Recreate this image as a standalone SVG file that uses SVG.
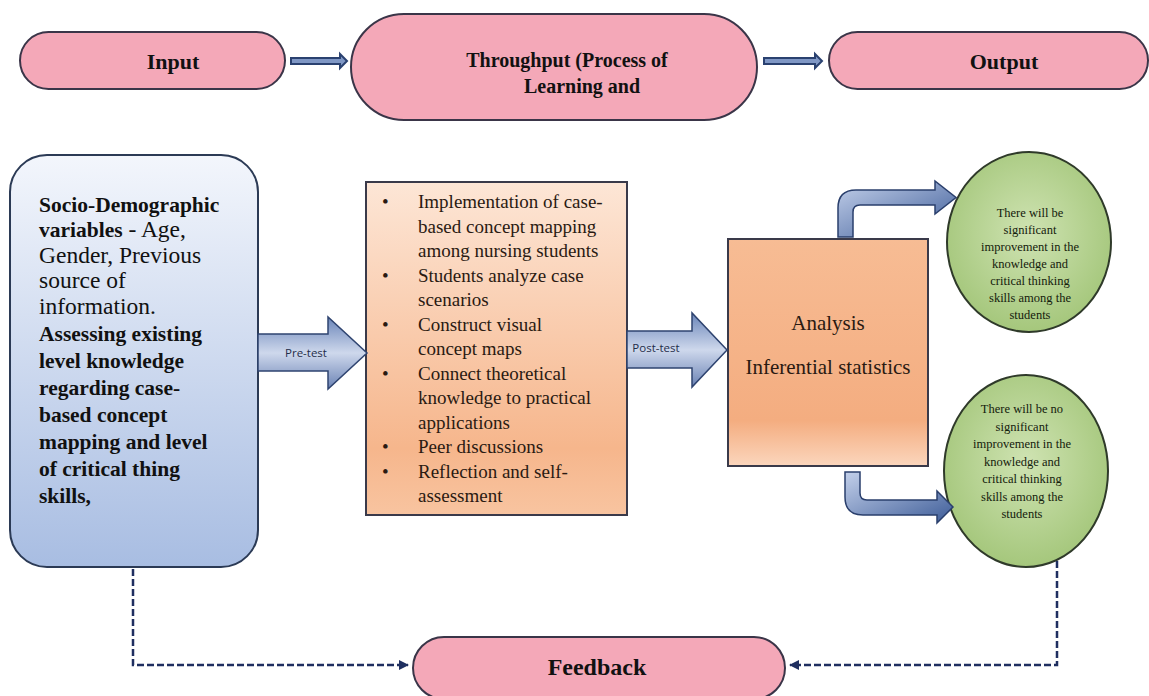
<svg xmlns="http://www.w3.org/2000/svg" width="1149" height="696" viewBox="0 0 1149 696">
<style>
.pill{fill:#f4a8b8;stroke:#3a3548;stroke-width:2}
.ptxt{font-family:"Liberation Serif",serif;font-weight:bold;font-size:22px;fill:#111;text-anchor:middle}
.ltxt{font-family:"Liberation Serif",serif;fill:#111}
.b{font-weight:bold;font-size:21.5px}
.n{font-size:23.5px}
.mtxt{font-family:"Liberation Serif",serif;font-size:19px;fill:#2a1a12}
.ctxt{font-family:"Liberation Serif",serif;font-size:12.5px;fill:#14200c;text-anchor:middle}
.atxt{font-family:"Liberation Serif",serif;font-size:21px;fill:#2a1a12;text-anchor:middle}
.lbl{font-family:"Open Sans","Liberation Sans",sans-serif;font-size:11.5px;fill:#1f2d4a;text-anchor:middle}
.thin{fill:#7f97c5;stroke:#2a4170;stroke-width:2}
.blk{fill:url(#gBlk);stroke:#2f4470;stroke-width:1.5}
.bent{fill:url(#gBent);stroke:#2a3f6c;stroke-width:1.5}
.dash{fill:none;stroke:#1f2f60;stroke-width:2.5;stroke-dasharray:7 3}
.circ{fill:url(#gGreen);stroke:#2f3a2a;stroke-width:2}
</style>
<defs>
<linearGradient id="gBlue" x1="0" y1="0" x2="0" y2="1">
<stop offset="0" stop-color="#f3f6fc"/><stop offset="1" stop-color="#a8bde2"/>
</linearGradient>
<linearGradient id="gPeach" x1="0" y1="0" x2="0" y2="1">
<stop offset="0" stop-color="#fde6d6"/><stop offset="0.8" stop-color="#f6b68c"/><stop offset="1" stop-color="#f8c4a0"/>
</linearGradient>
<linearGradient id="gOrange" x1="0" y1="0" x2="0" y2="1">
<stop offset="0" stop-color="#f7bc94"/><stop offset="0.8" stop-color="#f4ad80"/><stop offset="1" stop-color="#fbd6bd"/>
</linearGradient>
<linearGradient id="gBlk" x1="0" y1="0" x2="0" y2="1">
<stop offset="0" stop-color="#6a85b9"/><stop offset="0.5" stop-color="#ced8ec"/><stop offset="1" stop-color="#6a82b4"/>
</linearGradient>
<linearGradient id="gBent" x1="0" y1="0" x2="1" y2="1">
<stop offset="0" stop-color="#c3d0ea"/><stop offset="1" stop-color="#3d5c98"/>
</linearGradient>
<radialGradient id="gGreen" cx="0.5" cy="0.45" r="0.55">
<stop offset="0" stop-color="#cfe3b2"/><stop offset="1" stop-color="#a5c77c"/>
</radialGradient>
<marker id="mDash" viewBox="0 0 10 10" refX="9" refY="5" markerWidth="4" markerHeight="4" orient="auto-start-reverse">
<path d="M0,0 L10,5 L0,10 z" fill="#1f2f60"/>
</marker>
</defs>

<g id="input">
<rect class="pill" x="20" y="32" width="265" height="57" rx="28.5"/>
<text class="ptxt" x="173" y="69">Input</text>
</g>
<g id="throughput">
<rect class="pill" x="351" y="14" width="406" height="106" rx="53"/>
<text class="ptxt" x="567" y="67" style="font-size:20px">Throughput (Process of</text>
<text class="ptxt" x="582" y="93" style="font-size:20px">Learning and</text>
</g>
<g id="output">
<rect class="pill" x="829" y="32" width="319" height="57" rx="28.5"/>
<text class="ptxt" x="1004" y="69">Output</text>
</g>

<g id="sociodemographic">
<rect x="10" y="155" width="248" height="412" rx="37" fill="url(#gBlue)" stroke="#2b3a55" stroke-width="2"/>
<text class="ltxt" x="39" y="212"><tspan class="b">Socio-Demographic</tspan></text>
<text class="ltxt" x="39" y="237"><tspan class="b">variables</tspan><tspan class="n"> - Age,</tspan></text>
<text class="ltxt n" x="39" y="263">Gender, Previous</text>
<text class="ltxt n" x="39" y="288">source of</text>
<text class="ltxt n" x="39" y="314">information.</text>
<text class="ltxt b" x="39" y="341">Assessing existing</text>
<text class="ltxt b" x="39" y="368">level knowledge</text>
<text class="ltxt b" x="39" y="395">regarding case-</text>
<text class="ltxt b" x="39" y="422">based concept</text>
<text class="ltxt b" x="39" y="449">mapping and level</text>
<text class="ltxt b" x="39" y="476">of critical thing</text>
<text class="ltxt b" x="39" y="503">skills,</text>
</g>

<g id="intervention">
<rect x="366" y="182" width="261" height="333" fill="url(#gPeach)" stroke="#3a3a4a" stroke-width="2"/>
<g class="mtxt">
<text x="382" y="208">•</text><text x="418" y="208">Implementation of case-</text>
<text x="418" y="232.5">based concept mapping</text>
<text x="418" y="257">among nursing students</text>
<text x="382" y="281.5">•</text><text x="418" y="281.5">Students analyze case</text>
<text x="418" y="306">scenarios</text>
<text x="382" y="330.5">•</text><text x="418" y="330.5">Construct visual</text>
<text x="418" y="355">concept maps</text>
<text x="382" y="379.5">•</text><text x="418" y="379.5">Connect theoretical</text>
<text x="418" y="404">knowledge to practical</text>
<text x="418" y="428.5">applications</text>
<text x="382" y="453">•</text><text x="418" y="453">Peer discussions</text>
<text x="382" y="477.5">•</text><text x="418" y="477.5">Reflection and self-</text>
<text x="418" y="502">assessment</text>
</g>
</g>

<g id="analysis">
<rect x="728" y="239" width="200" height="227" fill="url(#gOrange)" stroke="#3a3a4a" stroke-width="2"/>
<text class="atxt" x="828" y="330">Analysis</text>
<text class="atxt" x="828" y="374">Inferential statistics</text>
</g>

<g id="hypothesis-significant">
<ellipse class="circ" cx="1029" cy="242" rx="82" ry="90"/>
<text class="ctxt" x="1030" y="217">There will be</text>
<text class="ctxt" x="1030" y="234">significant</text>
<text class="ctxt" x="1030" y="251">improvement in the</text>
<text class="ctxt" x="1030" y="268">knowledge and</text>
<text class="ctxt" x="1030" y="285">critical thinking</text>
<text class="ctxt" x="1030" y="302">skills among the</text>
<text class="ctxt" x="1030" y="319">students</text>
</g>

<g id="hypothesis-no-significant">
<ellipse class="circ" cx="1026" cy="471" rx="82" ry="96"/>
<text class="ctxt" x="1022" y="413">There will be no</text>
<text class="ctxt" x="1022" y="430.5">significant</text>
<text class="ctxt" x="1022" y="448">improvement in the</text>
<text class="ctxt" x="1022" y="465.5">knowledge and</text>
<text class="ctxt" x="1022" y="483">critical thinking</text>
<text class="ctxt" x="1022" y="500.5">skills among the</text>
<text class="ctxt" x="1022" y="518">students</text>
</g>

<g id="feedback">
<rect class="pill" x="413" y="637" width="372" height="62" rx="31"/>
<text class="ptxt" x="597" y="675" style="font-size:24px">Feedback</text>
</g>

<g id="connectors">
<path class="thin" d="M291,58 H340 V54 L347,61 L340,68 V64 H291 Z"/>
<path class="thin" d="M764,58 H815 V54 L822,61 L815,68 V64 H764 Z"/>
<path class="blk" d="M258,334 H328 V317 L367,353 L328,389 V371 H258 Z"/>
<text class="lbl" x="306" y="357">Pre-test</text>
<path class="blk" d="M627,331 H692 V313 L727,350 L692,387 V368 H627 Z"/>
<text class="lbl" x="656" y="352">Post-test</text>
<path class="bent" d="M838,237 V208 Q838,190 856,190 H935 V181 L956,197.5 L935,214 V205 H860 Q853,205 853,212 V237 Z"/>
<path class="bent" d="M845,472 V497 Q845,515 863,515 H937 V523 L953,507 L937,491 V500 H867 Q860,500 860,493 V472 Z"/>
<path class="dash" d="M133,569 V665 H408" marker-end="url(#mDash)"/>
<path class="dash" d="M1057,561 V665 H790" marker-end="url(#mDash)"/>
</g>
</svg>
